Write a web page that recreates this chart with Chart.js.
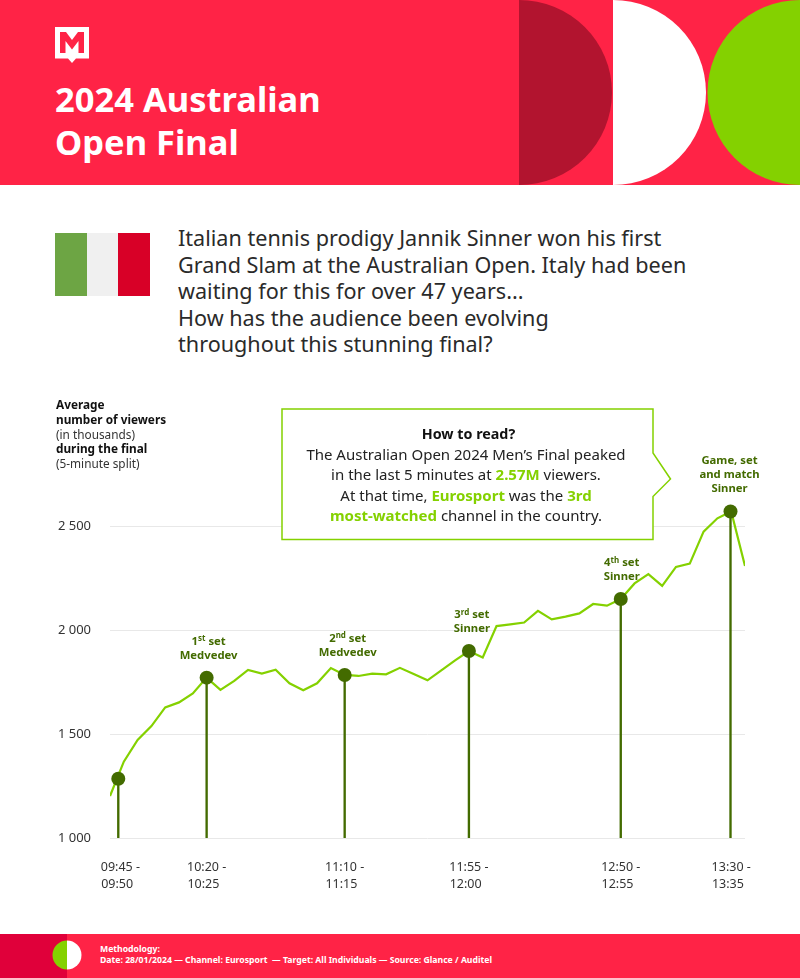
<!DOCTYPE html>
<html>
<head>
<meta charset="utf-8">
<title>2024 Australian Open Final</title>
<script src="https://cdn.jsdelivr.net/npm/chart.js@4"></script>
<style>
  html, body { margin: 0; padding: 0; background: #fff; }
  body { position: relative; width: 800px; height: 978px; overflow: hidden; font-family: "Noto Sans", sans-serif; color: #222; }
  .abs { position: absolute; }
  #title { left: 55px; top: 77px; color: #fff; font-size: 34.5px; font-weight: 700; line-height: 43px; }
  #intro { left: 178px; top: 225px; width: 580px; font-size: 21.6px; line-height: 26.6px; color: #2a2a2a; white-space: nowrap; }
  #yTitle { left: 56px; top: 397px; font-size: 11.8px; line-height: 14.8px; color: #333; white-space: nowrap; }
  #yTitle b { color: #111; }
  #howto { left: 280px; top: 423px; width: 372px; text-align: center; font-size: 15px; line-height: 20.2px; white-space: nowrap; }
  #howto b { color: #111; font-size: 14.3px; margin-left: 5px; }
  #howto em { font-style: normal; font-weight: 700; color: #84d100; }
  #methodology { left: 100px; top: 944px; color: #fff; font-size: 8.66px; font-weight: 700; line-height: 11px; white-space: nowrap; }
  canvas { position: absolute; left: 0; top: 380px; }
</style>
</head>
<body>

<svg class="abs" style="left:0;top:0" width="800" height="186">
  <rect width="800" height="185" fill="#ff2346"/>
  <path d="M519 0 A93 92.5 0 0 1 519 185 Z" fill="#b2142f"/>
  <path d="M613 0 A93 92.5 0 0 1 613 185 Z" fill="#fff"/>
  <circle cx="800" cy="92.5" r="92.5" fill="#84d100"/>
  <path d="M55 27 H89 V58.5 H76 L72 63 L68 58.5 H55 Z" fill="#fff"/>
  <path d="M60 53 V32 H66 L72 40 L78 32 H84 V53 H78.5 V41 L72 49.5 L65.5 41 V53 Z" fill="#ff2346"/>
</svg>
<div id="title" class="abs">2024 Australian<br>Open Final</div>

<svg class="abs" style="left:55px;top:233px" width="95" height="63">
  <rect width="32" height="63" fill="#6da544"/>
  <rect x="32" width="31" height="63" fill="#f0f0f0"/>
  <rect x="63" width="32" height="63" fill="#d80027"/>
</svg>
<div id="intro" class="abs">Italian tennis prodigy Jannik Sinner won his first<br>Grand Slam at the Australian Open. Italy had been<br>waiting for this for over 47 years...<br>How has the audience been evolving<br>throughout this stunning final?</div>

<canvas id="myChart" width="800" height="530"></canvas>

<div id="yTitle" class="abs"><b>Average<br>number of viewers</b><br>(in thousands)<br><b>during the final</b><br>(5-minute split)</div>

<svg class="abs" style="left:275px;top:400px" width="405" height="150">
  <path d="M7 9 H378 V53 L395.5 79 L378 96.5 V139.5 H7 Z" fill="#fff" stroke="#84d100" stroke-width="1.5"/>
</svg>
<div id="howto" class="abs"><b>How to read?</b><br>The Australian Open 2024 Men’s Final peaked<br>in the last 5 minutes at <em>2.57M</em> viewers.<br>At that time, <em>Eurosport</em> was the <em>3rd</em><br><em>most-watched</em> channel in the country.</div>

<svg class="abs" style="left:0;top:934px" width="800" height="44">
  <rect width="800" height="44" fill="#ff2346"/>
  <rect width="67" height="44" fill="#e0003a"/>
  <path d="M67 6.5 A14.5 14.5 0 0 0 67 35.5 Z" fill="#84d100"/>
  <path d="M67 6.5 A14.5 14.5 0 0 1 67 35.5 Z" fill="#fff"/>
</svg>
<div id="methodology" class="abs">Methodology:<br>Date: 28/01/2024 — Channel: Eurosport &nbsp;— Target: All Individuals — Source: Glance / Auditel</div>

<script>
  'use strict';

  // one value per 5-minute slot, thousands of viewers
  const viewers = [1202, 1367, 1471, 1538, 1628, 1652, 1695, 1771, 1712, 1755,
    1808, 1790, 1809, 1744, 1710, 1744, 1817, 1784, 1779, 1790,
    1787, 1818, 1788, 1758, 1806, 1854, 1899, 1868, 2019, 2027,
    2036, 2092, 2051, 2064, 2080, 2125, 2117, 2149, 2224, 2269,
    2212, 2303, 2319, 2473, 2537, 2570, 2308];

  // end of each set: slot number and viewers
  const setSlots = [0.6, 7, 17, 26, 37, 44.95];
  const setViewers = [1285, 1771, 1784, 1899, 2149, 2570];
  const setLabels = [
    [],
    ['1st set', 'Medvedev'],
    ['2nd set', 'Medvedev'],
    ['3rd set', 'Sinner'],
    ['4th set', 'Sinner'],
    ['Game, set', 'and match', 'Sinner']
  ];
  const labelShiftX = [0, 2, 3, 3, 1, -1];

  const yTicks = [1000, 1500, 2000, 2500];
  const xTicks = [0.75, 7, 17, 26, 37, 45];
  const xTickFrom = ['09:45 -', '10:20 -', '11:10 -', '11:55 -', '12:50 -', '13:30 -'];
  const xTickTo = ['09:50', '10:25', '11:15', '12:00', '12:55', '13:35'];

  const GREEN = '#84d100';
  const OLIVE = '#436b00';

  /* Labels above the set markers */
  const setLabelPlugin = {
    id: 'setLabels',
    afterDatasetsDraw(chart) {
      const ctx = chart.ctx;
      const points = chart.getDatasetMeta(0).data;
      const mainFont = '700 11.3px "Noto Sans"';
      const supFont = '700 8px "Noto Sans"';

      ctx.save();
      ctx.fillStyle = OLIVE;
      ctx.textBaseline = 'alphabetic';
      points.forEach(function (point, i) {
        const lines = setLabels[i];
        lines.forEach(function (line, n) {
          const y = point.y - 19 - (lines.length - 1 - n) * 14;
          const x = point.x + labelShiftX[i];
          const parts = line.match(/^(\d)(st|nd|rd|th)( .*)$/);
          if (!parts) {
            ctx.font = mainFont;
            ctx.textAlign = 'center';
            ctx.fillText(line, x, y);
            return;
          }
          // ordinal with raised suffix
          ctx.textAlign = 'left';
          ctx.font = mainFont;
          const w1 = ctx.measureText(parts[1]).width;
          const w3 = ctx.measureText(parts[3]).width;
          ctx.font = supFont;
          const w2 = ctx.measureText(parts[2]).width;
          let left = x - (w1 + w2 + w3) / 2;
          ctx.font = mainFont;
          ctx.fillText(parts[1], left, y);
          left += w1;
          ctx.font = supFont;
          ctx.fillText(parts[2], left, y - 3.5);
          left += w2;
          ctx.font = mainFont;
          ctx.fillText(parts[3], left, y);
        });
      });
      ctx.restore();
    }
  };

  function initChart() {
    const ctx = document.getElementById('myChart').getContext('2d');

    new Chart(ctx, {
      type: 'line',
      data: {
        datasets: [{
          label: 'Sets',
          data: setSlots.map((x, i) => ({ x: x, y: setViewers[i] })),
          showLine: false,
          pointRadius: 7,
          pointBackgroundColor: OLIVE,
          pointBorderWidth: 0,
          order: 0
        }, {
          type: 'bar',
          label: 'Drop lines',
          data: setSlots.map((x, i) => ({ x: x, y: setViewers[i] })),
          backgroundColor: OLIVE,
          barThickness: 1.7,
          order: 1
        }, {
          label: 'Viewers',
          data: viewers.map((v, i) => ({ x: i, y: v })),
          borderColor: GREEN,
          borderWidth: 2.2,
          pointRadius: 0,
          tension: 0,
          order: 2
        }]
      },
      options: {
        responsive: false,
        animation: false,
        layout: { padding: { left: 0, right: 55, top: 94, bottom: 0 } },
        plugins: { legend: { display: false }, tooltip: { enabled: false } },
        scales: {
          x: {
            type: 'linear',
            min: 0,
            max: 46,
            offset: false,
            grid: { display: false, offset: false },
            border: { display: false },
            afterBuildTicks: function (scale) {
              scale.ticks = xTicks.map(v => ({ value: v }));
            },
            afterFit: function (scale) {
              scale.height = 72;
            },
            ticks: {
              autoSkip: false,
              maxRotation: 0,
              padding: 13,
              color: '#333',
              font: { family: '"Noto Sans"', size: 12.5, lineHeight: 1.36 },
              callback: function (value, index) {
                return [xTickFrom[index], xTickTo[index] + '\u00a0\u00a0'];
              }
            }
          },
          y: {
            min: 1000,
            max: 2750,
            grid: { color: '#e8e8e8', lineWidth: 1, drawTicks: false },
            border: { display: false },
            afterBuildTicks: function (scale) {
              scale.ticks = yTicks.map(v => ({ value: v }));
            },
            afterFit: function (scale) {
              scale.width = 110;
            },
            ticks: {
              padding: 19,
              color: '#333',
              font: { family: '"Noto Sans"', size: 13 },
              callback: function (value) {
                return String(value).replace(/(\d)(\d{3})$/, '$1 $2');
              }
            }
          }
        }
      },
      plugins: [setLabelPlugin]
    });
  }

  initChart();
</script>
</body>
</html>
